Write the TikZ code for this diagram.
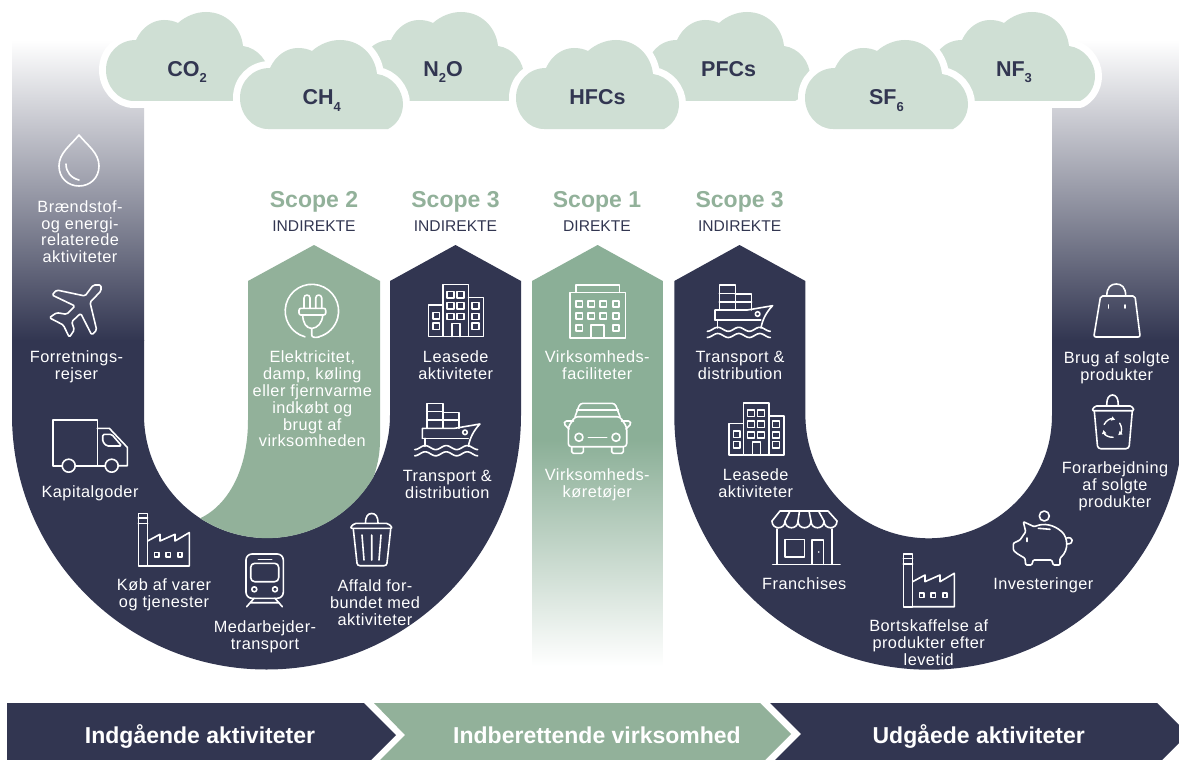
\documentclass[tikz,border=0pt]{standalone}
\usepackage{fontspec}
\setmainfont{Liberation Sans}
\newfontfamily\lblfont[LetterSpace=3]{Liberation Sans}
\usetikzlibrary{arrows.meta}
\definecolor{navy}{HTML}{323651}
\definecolor{sage}{HTML}{92B19A}
\definecolor{sagedeep}{HTML}{8BAF97}
\definecolor{cloudc}{HTML}{CFDFD4}
\newcommand{\subs}[1]{\raisebox{-6pt}{\fontsize{13}{13}\selectfont #1}}
\tikzset{
  flipy/.style={yscale=-1},
  ico/.style={draw=white,line width=1.6pt,line join=round,line cap=round},
  lbl/.style={text=white,inner sep=0pt,anchor=north,align=center,font=\lblfont\fontsize{16.3}{16.8}\selectfont},
  gas/.style={text=navy,inner sep=0pt,anchor=base,font=\fontsize{21.5}{24}\selectfont\bfseries},
  scopehead/.style={text=sage,inner sep=0pt,anchor=base,font=\fontsize{23}{26}\selectfont\bfseries},
  scopesub/.style={text=navy,inner sep=0pt,anchor=base,font=\fontsize{15.6}{18}\selectfont},
  barlbl/.style={text=white,inner sep=0pt,anchor=base,font=\fontsize{23}{26}\selectfont\bfseries},
  cloudpath/.style={insert path={
    (28,89) .. controls (12,89) and (0,74) .. (0,58) .. controls (0,41) and (13,28) .. (30,28)
    .. controls (36,15) and (47,8) .. (58,8) .. controls (63,8) and (68,9) .. (72,11)
    .. controls (80,4) and (90,0) .. (100,0) .. controls (120,0) and (135,15) .. (137,34)
    .. controls (152,36) and (163,50) .. (163,64) .. controls (163,76) and (156,85) .. (148,89) -- cycle}},
  cloudicon/.pic={
    \path[draw=white,fill=white,line width=14pt,line join=round,cloudpath];
    \path[fill=cloudc,cloudpath];
  },
  factoryicon/.pic={
    \draw[ico] (0,0) rectangle (9.3,52.7);
    \draw[ico] (0,4.5)--(9.3,4.5) (0,10)--(9.3,10);
    \draw[ico] (9.3,27.7)--(21.7,21)--(21.7,27.7)--(36.7,21)--(36.7,27.7)--(51,19.3)--(51,52.7)--(9.3,52.7);
    \foreach \wx in {16,27.7,39.4} \draw[ico] (\wx,39) rectangle ++(4.5,4.5);
  },
  towericon/.pic={
    \draw[ico] (0,0) rectangle (25.7,52.3);
    \draw[ico] (0,20.7)--(-14.3,20.7)--(-14.3,52.3)--(0,52.3);
    \draw[ico] (25.7,13.3)--(40.7,13.3)--(40.7,52.3)--(25.7,52.3);
    \foreach \wx in {4,14} \foreach \wy in {7.3,18.3,29} \draw[ico] (\wx,\wy) rectangle ++(7.3,6.3);
    \foreach \wy in {28.3,38.7} \draw[ico] (-9.7,\wy) rectangle ++(6.5,6.3);
    \foreach \wy in {18.3,29,38.7} \draw[ico] (29.3,\wy) rectangle ++(7,6.3);
    \draw[ico] (9,52.3)--(9,39)--(17.3,39)--(17.3,52.3);
  },
  shipicon/.pic={
    \draw[ico] (0,0) rectangle (16,25);
    \draw[ico] (0,8.3)--(16,8.3) (0,16.7)--(16,16.7);
    \draw[ico] (16,9)--(32.3,9)--(32.3,25) (16,16.7)--(32.3,16.7);
    \draw[ico] (-4.3,35)--(-4.3,25)--(28,25)--(53.3,20.7) .. controls (47,27) and (43,35) .. (41.7,43);
    \draw[ico] (-4.3,35)--(41.5,35) (-2,35)--(-2,43);
    \draw[ico] (38.3,29) circle[radius=2.3];
    \draw[ico] plot[domain=-12:51,samples=50,smooth] (\x,{44.3+2*cos((\x+12)*17.14)});
    \draw[ico] plot[domain=-12:51,samples=50,smooth] (\x,{50.5+2*cos((\x+12)*17.14)});
  }
}
\begin{document}
\begin{tikzpicture}[x=1pt,y=1pt,yscale=-1]
\useasboundingbox (0,0) rectangle (1179,760);
\clip (0,0) rectangle (1179,760);
\fill[white] (0,0) rectangle (1179,760);

% left U
\shade[top color=white,bottom color=navy] (12,40) rectangle (144,340.5);
\fill[navy] (12,340) -- (12,415) arc[start angle=180,end angle=0,radius=254.5] -- (521,281) -- (455.5,245) -- (390,281) -- (390,415) arc[start angle=0,end angle=180,radius=123] -- (144,340) -- cycle;
% right U
\shade[top color=white,bottom color=navy] (1052,40) rectangle (1184,340.5);
\fill[navy] (674.3,281) -- (674.3,415) arc[start angle=180,end angle=0,radius=254.7] -- (1183.7,340) -- (1052,340) -- (1052,415) arc[start angle=0,end angle=180,radius=123.3] -- (805.4,281) -- (739.5,245) -- cycle;
% scope 2
\fill[sage] (314,245) -- (380,281) -- (380,440) .. controls (380,455) and (377,467) .. (373.5,477) arc[start angle=30.2,end angle=123,radius=123] .. controls (228,505) and (248,470) .. (248,420) -- (248,281) -- cycle;
% scope 1
\fill[sagedeep] (597.6,245) -- (662.8,281) -- (662.8,441) -- (532,441) -- (532,281) -- cycle;
\shade[top color=sagedeep,bottom color=white] (532,440) rectangle (662.8,666);

% clouds
\pic[flipy] at (106,12) {cloudicon};
\pic[flipy] at (361,12) {cloudicon};
\pic[flipy] at (647,12) {cloudicon};
\pic[flipy] at (932,12) {cloudicon};
\pic[flipy] at (240,40) {cloudicon};
\pic[flipy] at (516,40) {cloudicon};
\pic[flipy] at (805,40) {cloudicon};
\node[gas] (co2) at (187,77) {CO\subs{2}};
\node[gas] (ch4) at (321.7,105) {CH\subs{4}};
\node[gas] (n2o) at (443,77) {N\subs{2}O};
\node[gas] (hfc) at (597.5,105) {HFCs};
\node[gas] (pfc) at (728.7,77) {PFCs};
\node[gas] (sf6) at (886.4,105) {SF\subs{6}};
\node[gas] (nf3) at (1014,77) {NF\subs{3}};

% scope headings
\node[scopehead] (s2) at (314,207) {Scope 2};
\node[scopesub] (s2b) at (314,231.7) {INDIREKTE};
\node[scopehead] (s3a) at (455.5,207) {Scope 3};
\node[scopesub] (s3ab) at (455.5,231.7) {INDIREKTE};
\node[scopehead] (s1) at (597,207) {Scope 1};
\node[scopesub] (s1b) at (597,231.7) {DIREKTE};
\node[scopehead] (s3b) at (739.7,207) {Scope 3};
\node[scopesub] (s3bb) at (739.7,231.7) {INDIREKTE};

% labels
\newcommand{\lab}[4]{\node[lbl] (#1) at (#2,{#3-13}) {\rule{0pt}{13pt}#4};}
\lab{t1}{80}{212}{Brændstof-\\og energi-\\relaterede\\aktiviteter}
\lab{t2}{76.5}{362.7}{Forretnings-\\rejser}
\lab{t3}{90}{497.3}{Kapitalgoder}
\lab{t4}{164}{590.7}{Køb af varer\\og tjenester}
\lab{t5}{265}{632}{Medarbejder-\\transport}
\lab{t6}{375}{591.7}{Affald for-\\bundet med\\aktiviteter}
\lab{t7}{312.3}{362.7}{Elektricitet,\\damp, køling\\eller fjernvarme\\indkøbt og\\brugt af\\virksomheden}
\lab{t8}{455.7}{362.7}{Leasede\\aktiviteter}
\lab{t9}{447.3}{481}{Transport \&\\distribution}
\lab{t10}{597.3}{362.7}{Virksomheds-\\faciliteter}
\lab{t11}{597.3}{480.7}{Virksomheds-\\køretøjer}
\lab{t12}{740}{362.7}{Transport \&\\distribution}
\lab{t13}{755.7}{480.7}{Leasede\\aktiviteter}
\lab{t14}{804.3}{589.3}{Franchises}
\lab{t15}{928.7}{631.7}{Bortskaffelse af\\produkter efter\\levetid}
\lab{t16}{1043.3}{589.3}{Investeringer}
\lab{t17}{1115}{473.3}{Forarbejdning\\af solgte\\produkter}
\lab{t18}{1116.8}{363}{Brug af solgte\\produkter}

% icons: drop
\draw[ico] (79,135) .. controls (70,146) and (59,153) .. (59,166) .. controls (59,178) and (68,186) .. (79,186) .. controls (90,186) and (99,178) .. (99,166) .. controls (99,153) and (88,146) .. (79,135) -- cycle;
\draw[ico] (66,164) .. controls (66,172) and (71,178) .. (79,180);
% plane
\draw[ico,rounded corners=1.5pt] (93.3,285)--(85,296)--(56.7,290)--(52,295)--(75,306)--(66.7,314.3)--(56.7,312.7)--(49.3,317.7)--(63.3,325)--(69.3,337.3)--(74.3,330)--(71.7,321.7)--(80.7,313.3)--(91.7,335)--(96.7,330)--(90,302.3)--(101,291)--(101,285)--cycle;
% truck
\draw[ico] (62.2,465.7)--(52.7,465.7)--(52.7,420)--(97.3,420)--(97.3,465.7);
\draw[ico] (75.2,465.7)--(105.2,465.7);
\draw[ico] (97.3,428.3)--(109.3,428.3)--(127.3,447.3)--(127.3,465.7)--(118.2,465.7);
\draw[ico,rounded corners=1.5pt] (102.7,434.3)--(111.7,434.3)--(121.7,446)--(106.7,446)--(102.7,441.7)--cycle;
\draw[ico] (68.7,465.7) circle[radius=6.5];
\draw[ico] (111.7,465.7) circle[radius=6.5];
% factories
\pic[flipy] at (138.3,513.3) {factoryicon};
\pic[flipy] at (903.3,554) {factoryicon};
% train
\draw[ico,rounded corners=6pt] (246,554) rectangle (283.3,598.3);
\draw[ico,rounded corners=4pt] (250.7,581.7)--(250.7,563.3)--(278.7,563.3)--(278.7,581.7)--cycle;
\draw[ico] (258.3,559.3)--(271.7,559.3);
\draw[ico] (254.3,589.3) circle[radius=2.5];
\draw[ico] (275,589.3) circle[radius=2.5];
\draw[ico] (254,598.3)--(246.7,606.7) (275,598.3)--(282.3,606.7) (250,602.7)--(279.3,602.7);
% trash
\draw[ico] (365.5,523.3) .. controls (365.5,516) and (368,513.5) .. (371.7,513.5) .. controls (375.4,513.5) and (378,516) .. (378,523.3);
\draw[ico,rounded corners=2pt] (354,523.3)--(388.3,523.3)--(392.7,528.3)--(350,528.3)--cycle;
\draw[ico,rounded corners=2.5pt] (353.3,529)--(357.3,565.7)--(386.7,565.7)--(390.7,529);
\draw[ico] (362,535)--(364,560) (371.7,535)--(371.7,560) (381,535)--(379,560);
% plug
\draw[ico] (305,336.8) arc[start angle=105,end angle=435,radius=26.7] ;
\draw[ico,rounded corners=3pt] (304,308.3)--(304,295)--(310,295)--(310,308.3);
\draw[ico,rounded corners=3pt] (315.7,308.3)--(315.7,295)--(321.7,295)--(321.7,308.3);
\draw[ico,rounded corners=2pt] (299,308.3) rectangle (325.7,315);
\draw[ico] (302.7,315) .. controls (303,323) and (306,328) .. (311.7,328.5) .. controls (317.4,328) and (322.4,323) .. (322.7,315);
\draw[ico] (311.7,328.5)--(311.7,335) .. controls (311.7,337.5) and (315,337.8) .. (319,337);
% towers and ships
\pic[flipy] at (442.7,284.3) {towericon};
\pic[flipy] at (743.3,402.7) {towericon};
\pic[flipy] at (426.7,403.3) {shipicon};
\pic[flipy] at (719.3,285) {shipicon};
% office
\draw[ico] (570,292.3) rectangle (625.3,337.7);
\draw[ico] (576,292.3)--(576,285)--(619.3,285)--(619.3,292.3);
\foreach \wx in {576,588,600,612.7} \foreach \wy in {300.7,312.7} \draw[ico] (\wx,\wy) rectangle ++(6.5,6);
\draw[ico] (576,325) rectangle ++(6.5,6);
\draw[ico] (612.7,325) rectangle ++(6.5,6);
\draw[ico] (590.7,337.7)--(590.7,325)--(604,325)--(604,337.7);
% car
\draw[ico,rounded corners=3pt] (575,416.7)--(580,403.3)--(615,403.3)--(620,416.7);
\draw[ico] (576.7,410)--(618.3,410);
\draw[ico,rounded corners=3pt] (568.3,446.7)--(568.3,427)--(575,416.7)--(620,416.7)--(626.7,427)--(626.7,446.7)--cycle;
\draw[ico,rounded corners=1.5pt] (573.5,421)--(565,421)--(564,424)--(569,429);
\draw[ico,rounded corners=1.5pt] (621.5,421)--(630,421)--(631,424)--(626,429);
\draw[ico] (579,437.3) circle[radius=4];
\draw[ico] (616,437.3) circle[radius=4];
\draw[ico] (588.3,437.3)--(606.7,437.3);
\draw[ico,rounded corners=1.5pt] (571.7,447)--(571.7,453.3)--(583.3,453.3)--(583.3,447);
\draw[ico,rounded corners=1.5pt] (611.7,447)--(611.7,453.3)--(623.3,453.3)--(623.3,447);
% store
\draw[ico] (772,521)--(780,511)--(828,511)--(837,521);
\draw[ico] (772,521) .. controls (772,530) and (785,530) .. (785,521) .. controls (785,530) and (798,530) .. (798,521) .. controls (798,530) and (811,530) .. (811,521) .. controls (811,530) and (824,530) .. (824,521) .. controls (824,530) and (837,530) .. (837,521);
\draw[ico] (790,511)--(785,521) (799.5,511)--(798,521) (809,511)--(811,521) (818.5,511)--(824,521);
\draw[ico] (776.7,529)--(776.7,564.3) (831.7,529)--(831.7,564.3) (772.7,564.3)--(840,564.3);
\draw[ico] (785,539.3) rectangle (804.3,556.7);
\draw[ico] (811.7,564.3)--(811.7,540)--(823.3,540)--(823.3,564.3);
\fill[white] (818.7,552) circle[radius=0.8];
% piggy
\draw[ico] (1044.3,516) circle[radius=5];
\draw[ico,rounded corners=1pt] (1023.3,521.7) -- (1034.3,526.7) .. controls (1044,522.5) and (1054,525) .. (1061.7,531.7) .. controls (1067,537) and (1070,549) .. (1060,558.3) -- (1060,565) -- (1053.3,565) -- (1051.7,560) -- (1033.3,560) -- (1031.7,565) -- (1025.7,565) -- (1025,558.3) -- (1016.7,553.3) -- (1013.3,550) -- (1013.3,543.3) -- (1020,540) -- (1025.7,531.7) -- cycle;
\draw[ico] (1066.7,538) .. controls (1073,536) and (1075,544) .. (1067,544);
\draw[ico] (1027,538)--(1027,541.5) (1038.3,528.3)--(1050,529.3);
% recycle bin
\draw[ico] (1106.7,405) .. controls (1106.7,398) and (1109,395) .. (1112.5,395) .. controls (1116,395) and (1118.3,398) .. (1118.3,405);
\draw[ico,rounded corners=1.5pt] (1095,406)--(1131.7,406)--(1134.3,410.7)--(1091.7,410.7)--cycle;
\draw[ico,rounded corners=3pt] (1094.3,411)--(1097.7,448.7)--(1129,448.7)--(1132.3,411);
\foreach \sa in {205,325,85} \draw[ico,line width=1.4pt,-{Latex[length=4pt,width=5pt]}] (1112.3,428.3) ++(\sa:9) arc[start angle=\sa,end angle={\sa+85},radius=9];
% bag
\draw[ico,rounded corners=2pt] (1100.6,296)--(1135,296)--(1140.2,337)--(1093.8,337)--cycle;
\draw[ico] (1106.8,296) .. controls (1106.8,287) and (1111,284) .. (1116.3,284) .. controls (1121.5,284) and (1125.7,287) .. (1125.7,296);
\draw[ico] (1108.6,305)--(1108.6,308) (1124.7,305)--(1124.7,308);

% bottom bars
\fill[navy] (7,703) -- (364,703) -- (396,735) -- (371,760) -- (7,760) -- cycle;
\fill[sage] (374,703) -- (760,703) -- (791,734) -- (765,760) -- (380,760) -- (405,735) -- cycle;
\fill[navy] (770,703) -- (1157,703) -- (1188,734) -- (1162,760) -- (775,760) -- (801,734) -- cycle;
\node[barlbl] (b1) at (200,743.3) {Indgående aktiviteter};
\node[barlbl] (b2) at (597,743.3) {Indberettende virksomhed};
\node[barlbl] (b3) at (978.7,743.3) {Udgåede aktiviteter};
\end{tikzpicture}
\end{document}
